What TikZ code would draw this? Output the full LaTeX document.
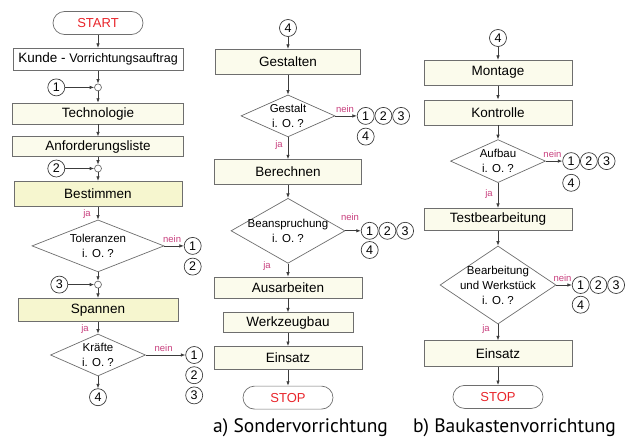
\documentclass[tikz,border=0pt]{standalone}
\usepackage{fontspec}
\setmainfont{Liberation Sans}
\newfontfamily\captionfont{PT Sans}
\usetikzlibrary{positioning, shapes.geometric, arrows.meta}

\definecolor{boxline}{HTML}{6E6E6E}
\definecolor{linedark}{HTML}{3C3C3C}
\definecolor{lightfill}{HTML}{FBFBEC}
\definecolor{darkfill}{HTML}{F6F6CF}
\definecolor{termred}{HTML}{E8242A}
\definecolor{janein}{HTML}{C8407E}

\tikzset{
	block/.style={draw=boxline, line width=0.7pt, fill=lightfill, inner sep=0pt, minimum width=148pt, minimum height=23pt, font=\fontsize{13.5}{16}\selectfont},
	keyblock/.style={block, fill=darkfill},
	terminal/.style={draw=boxline, line width=0.7pt, rounded corners=11.5pt, minimum width=90pt, minimum height=23pt, inner sep=0pt, text=termred, font=\fontsize{13}{15}\selectfont},
	decision/.style={diamond, draw=boxline, line width=0.7pt, fill=white, inner sep=0pt},
	dtext/.style={align=center, inner sep=0pt, font=\fontsize{11.5}{15}\selectfont},
	junction/.style={circle, draw=boxline, line width=0.7pt, fill=white, inner sep=0pt, minimum size=7pt},
	conn/.style={circle, draw=linedark, line width=0.7pt, inner sep=0pt, minimum size=17pt, font=\fontsize{12.5}{14}\selectfont},
	flow/.style={draw=linedark, line width=0.7pt, -{Latex[length=4.5pt,width=3.5pt]}},
	yesno/.style={text=janein, inner sep=1pt, font=\fontsize{9.5}{11}\selectfont},
	caption/.style={inner sep=0pt, font=\captionfont\fontsize{19.5}{22}\selectfont},
}

\begin{document}
\begin{tikzpicture}
	\useasboundingbox (0,0) rectangle (630pt,-439pt);

	% a) Sondervorrichtung, erster Teil
	\node[terminal] (start) at (98pt,-23pt) {START};
	\node[block, fill=white, minimum width=170pt, minimum height=22pt, below=13pt of start] (kunde) {Kunde - {\fontsize{12.5}{15}\selectfont Vorrichtungsauftrag}};
	\node[junction, below=13pt of kunde] (j1) {};
	\node[conn, left=29pt of j1] (c1) {1};
	\node[block, minimum width=171pt, minimum height=21pt, below=11.5pt of j1] (tech) {Technologie};
	\node[block, minimum width=171pt, minimum height=20pt, below=12pt of tech] (anf) {Anforderungsliste};
	\node[junction, below=7.5pt of anf] (j2) {};
	\node[conn, left=29pt of j2] (c2) {2};
	\node[keyblock, minimum width=168pt, minimum height=25pt, below=8.5pt of j2] (best) {Bestimmen};
	\node[decision, minimum width=132pt, minimum height=52pt, below=13pt of best, label={[dtext]center:Toleranzen\\i. O. ?}] (tol) {};
	\node[conn, right=19.5pt of tol] (t1) {1};
	\node[conn, below=3pt of t1] (t2) {2};
	\node[junction, below=8.5pt of tol] (j3) {};
	\node[conn, left=26pt of j3] (c3) {3};
	\node[keyblock, minimum width=160pt, minimum height=23pt, below=9.5pt of j3] (span) {Spannen};
	\node[decision, minimum width=95pt, minimum height=42pt, below=12pt of span, label={[dtext]center:Kräfte\\i. O. ?}] (kra) {};
	\node[conn, right=39.5pt of kra] (k1) {1};
	\node[conn, below=2.5pt of k1] (k2) {2};
	\node[conn, below=2.5pt of k2] (k3) {3};
	\node[conn, below=12pt of kra] (c4) {4};

	\draw[flow] (start) -- (kunde);
	\draw[flow] (kunde) -- (j1);
	\draw[flow] (c1) -- (j1);
	\draw[flow] (j1) -- (tech);
	\draw[flow] (tech) -- (anf);
	\draw[flow] (anf) -- (j2);
	\draw[flow] (c2) -- (j2);
	\draw[flow] (j2) -- (best);
	\draw[flow] (best) -- node[yesno, left=6pt, pos=.6] {ja} (tol);
	\draw[flow] (tol) -- node[yesno, above=2pt, pos=.4] {nein} (t1);
	\draw[flow] (tol) -- (j3);
	\draw[flow] (c3) -- (j3);
	\draw[flow] (j3) -- (span);
	\draw[flow] (span) -- node[yesno, left=8pt, pos=.6] {ja} (kra);
	\draw[flow] (kra) -- node[yesno, above=2pt, pos=.45] {nein} (k1);
	\draw[flow] (kra) -- (c4);

	% a) Sondervorrichtung, zweiter Teil
	\node[conn] (d4) at (288pt,-28pt) {4};
	\node[block, minimum width=145pt, minimum height=25pt, below=12pt of d4] (gest) {Gestalten};
	\node[decision, minimum width=94pt, minimum height=42pt, below=20pt of gest, label={[dtext]center:Gestalt\\i. O. ?}] (gio) {};
	\node[conn, right=21.5pt of gio] (g1) {1};
	\node[conn, right=0pt of g1] (g2) {2};
	\node[conn, right=0pt of g2] (g3) {3};
	\node[conn, below=3pt of g1] (g4) {4};
	\node[block, minimum width=147pt, minimum height=25pt, below=22pt of gio] (ber) {Berechnen};
	\node[decision, minimum width=114pt, minimum height=65pt, below=13pt of ber, label={[dtext]center:Beanspruchung\\i. O. ?}] (bio) {};
	\node[conn, right=15.5pt of bio] (b1) {1};
	\node[conn, right=0pt of b1] (b2) {2};
	\node[conn, right=0pt of b2] (b3) {3};
	\node[conn, below=1.5pt of b1] (b4) {4};
	\node[block, minimum width=148pt, minimum height=21pt, below=13pt of bio] (aus) {Ausarbeiten};
	\node[block, minimum width=130pt, minimum height=20pt, below=14pt of aus] (wzb) {Werkzeugbau};
	\node[block, minimum width=148pt, minimum height=23pt, below=13pt of wzb] (ein) {Einsatz};
	\node[terminal, below=16pt of ein] (stop) {STOP};

	\draw[flow] (d4) -- (gest);
	\draw[flow] (gest) -- (gio);
	\draw[flow] (gio) -- node[yesno, above=2pt, pos=.45] {nein} (g1);
	\draw[flow] (gio) -- node[yesno, left=4pt, pos=.35] {ja} (ber);
	\draw[flow] (ber) -- (bio);
	\draw[flow] (bio) -- node[yesno, above=9pt, pos=.3] {nein} (b1);
	\draw[flow] (bio) -- node[yesno, left=16pt, pos=.15] {ja} (aus);
	\draw[flow] (aus) -- (wzb);
	\draw[flow] (wzb) -- (ein);
	\draw[flow] (ein) -- (stop);

	% b) Baukastenvorrichtung
	\node[conn] (e4) at (498pt,-38pt) {4};
	\node[block, minimum width=148pt, minimum height=25pt, below=13pt of e4] (mont) {Montage};
	\node[block, minimum width=148pt, minimum height=25pt, below=14pt of mont] (kon) {Kontrolle};
	\node[decision, minimum width=95pt, minimum height=43pt, below=14pt of kon, label={[dtext]center:Aufbau\\i. O. ?}] (aio) {};
	\node[conn, right=16.5pt of aio] (a1) {1};
	\node[conn, right=0pt of a1] (a2) {2};
	\node[conn, right=0pt of a2] (a3) {3};
	\node[conn, below=4pt of a1] (a4) {4};
	\node[block, minimum width=148pt, minimum height=22pt, below=25pt of aio] (test) {Testbearbeitung};
	\node[decision, minimum width=116pt, minimum height=78pt, below=15pt of test, label={[dtext]center:Bearbeitung\\und Werkstück\\i. O. ?}] (wio) {};
	\node[conn, right=15.5pt of wio] (w1) {1};
	\node[conn, right=0pt of w1] (w2) {2};
	\node[conn, right=0pt of w2] (w3) {3};
	\node[conn, below=2pt of w1] (w4) {4};
	\node[block, minimum width=148pt, minimum height=26pt, below=16pt of wio] (ein2) {Einsatz};
	\node[terminal, below=18pt of ein2] (stop2) {STOP};

	\draw[flow] (e4) -- (mont);
	\draw[flow] (mont) -- (kon);
	\draw[flow] (kon) -- (aio);
	\draw[flow] (aio) -- node[yesno, above=2pt, pos=.4] {nein} (a1);
	\draw[flow] (aio) -- node[yesno, left=4pt, pos=.45] {ja} (test);
	\draw[flow] (test) -- (wio);
	\draw[flow] (wio) -- node[yesno, above=2pt, pos=.4] {nein} (w1);
	\draw[flow] (wio) -- node[yesno, left=7pt, pos=.3] {ja} (ein2);
	\draw[flow] (ein2) -- (stop2);

	\node[caption, anchor=base west] (capa) at (213pt,-432pt) {a) Sondervorrichtung};
	\node[caption, anchor=base west] (capb) at (413pt,-432pt) {b) Baukastenvorrichtung};
\end{tikzpicture}
\end{document}
